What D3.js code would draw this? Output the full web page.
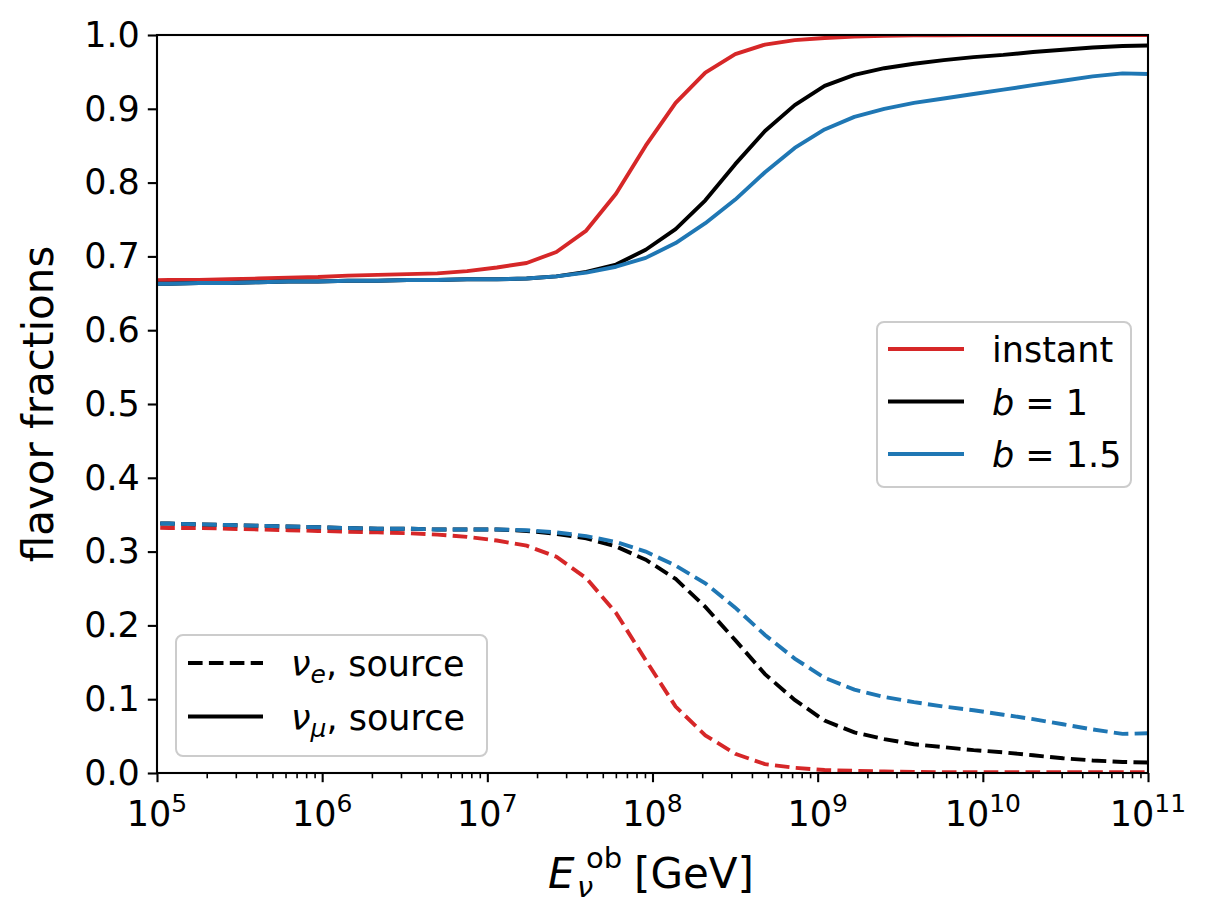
<!DOCTYPE html>
<html lang="en">
<head>
<meta charset="UTF-8">
<title>Flavor fractions</title>
<script src="https://cdnjs.cloudflare.com/ajax/libs/d3/7.8.5/d3.min.js"></script>
<style>
    body { margin: 0; background: #fff; }
    svg { display: block; font-family: "DejaVu Sans", sans-serif; }
</style>
</head>
<body>
<svg id="chart" width="1210" height="922"></svg>
<script>
// log10 of observed energy [GeV] at each computed point
const logE = [4.893, 5.073, 5.254, 5.434, 5.614, 5.795, 5.975, 6.156, 6.336, 6.516,
              6.697, 6.877, 7.058, 7.238, 7.418, 7.599, 7.779, 7.959, 8.140, 8.320,
              8.501, 8.681, 8.861, 9.042, 9.222, 9.403, 9.583, 9.763, 9.944, 10.124,
              10.304, 10.485, 10.665, 10.846, 11.026];

// nu_mu at source (solid)
const muInstant = [0.667, 0.668, 0.668, 0.669, 0.670, 0.671, 0.672, 0.674, 0.675, 0.676,
                   0.677, 0.680, 0.685, 0.691, 0.706, 0.735, 0.785, 0.850, 0.908, 0.949,
                   0.974, 0.987, 0.993, 0.996, 0.998, 0.999, 0.9995, 0.9997, 0.9998, 0.9999,
                   1.0, 1.0, 1.0, 1.0, 1.0];
const muB1 = [0.663, 0.663, 0.664, 0.664, 0.665, 0.666, 0.666, 0.667, 0.667, 0.668,
              0.668, 0.669, 0.669, 0.670, 0.673, 0.679, 0.689, 0.709, 0.737, 0.776,
              0.825, 0.870, 0.905, 0.931, 0.946, 0.955, 0.961, 0.966, 0.970, 0.973,
              0.977, 0.980, 0.983, 0.985, 0.986];
const muB15 = [0.663, 0.663, 0.664, 0.664, 0.665, 0.666, 0.666, 0.667, 0.667, 0.668,
               0.668, 0.669, 0.669, 0.670, 0.673, 0.678, 0.686, 0.698, 0.718, 0.745,
               0.777, 0.814, 0.847, 0.872, 0.889, 0.900, 0.908, 0.914, 0.920, 0.926,
               0.932, 0.938, 0.944, 0.948, 0.947];

// nu_e at source (dashed)
const eInstant = [0.333, 0.332, 0.332, 0.331, 0.330, 0.329, 0.328, 0.327, 0.326, 0.325,
                  0.323, 0.320, 0.315, 0.308, 0.293, 0.264, 0.217, 0.153, 0.090, 0.051,
                  0.026, 0.012, 0.007, 0.004, 0.003, 0.002, 0.0015, 0.001, 0.001, 0.001,
                  0.001, 0.001, 0.001, 0.001, 0.001];
const eB1 = [0.338, 0.338, 0.337, 0.336, 0.335, 0.334, 0.333, 0.332, 0.331, 0.331,
             0.330, 0.330, 0.330, 0.328, 0.324, 0.318, 0.307, 0.289, 0.263, 0.225,
             0.180, 0.134, 0.099, 0.071, 0.055, 0.046, 0.039, 0.035, 0.031, 0.028,
             0.024, 0.020, 0.017, 0.015, 0.014];
const eB15 = [0.338, 0.338, 0.337, 0.336, 0.335, 0.334, 0.333, 0.332, 0.331, 0.331,
              0.330, 0.330, 0.330, 0.329, 0.326, 0.321, 0.313, 0.300, 0.281, 0.257,
              0.224, 0.187, 0.155, 0.129, 0.113, 0.103, 0.096, 0.090, 0.085, 0.079,
              0.073, 0.066, 0.059, 0.053, 0.054];

const yTicks = [0, 0.1, 0.2, 0.3, 0.4, 0.5, 0.6, 0.7, 0.8, 0.9, 1.0];
const xDecades = [5, 6, 7, 8, 9, 10, 11];

const series = [
    { name: "instant", color: "#d62728", mu: muInstant, e: eInstant },
    { name: "b1", color: "#000000", mu: muB1, e: eB1 },
    { name: "b15", color: "#1f77b4", mu: muB15, e: eB15 }
];

const svg = d3.select("#chart");
const plotL = 157, plotR = 1148, plotT = 35, plotB = 773;

const x = d3.scaleLog().domain([1e5, 1e11]).range([plotL, plotR]);
const y = d3.scaleLinear().domain([0, 1]).range([plotB, plotT]);

svg.append("clipPath").attr("id", "plot-clip")
    .append("rect")
    .attr("x", plotL).attr("y", plotT)
    .attr("width", plotR - plotL).attr("height", plotB - plotT);

const line = d3.line()
    .x((d, i) => x(Math.pow(10, logE[i])))
    .y(d => y(d));

const plot = svg.append("g").attr("clip-path", "url(#plot-clip)");
series.forEach(s => {
    plot.append("path")
        .datum(s.mu)
        .attr("d", line)
        .attr("fill", "none")
        .attr("stroke", s.color)
        .attr("stroke-width", 3.9)
        .attr("stroke-linejoin", "round");
    plot.append("path")
        .datum(s.e)
        .attr("d", line)
        .attr("fill", "none")
        .attr("stroke", s.color)
        .attr("stroke-width", 3.9)
        .attr("stroke-dasharray", "14.6,6.3");
});

// x axis: major + minor ticks
const majors = xDecades.map(k => Math.pow(10, k));
const minors = [];
xDecades.slice(0, -1).forEach(k => {
    for (let m = 2; m <= 9; m++) minors.push(m * Math.pow(10, k));
});

const xAxis = svg.append("g").attr("transform", `translate(0,${plotB})`);
xAxis.call(d3.axisBottom(x).tickValues(minors).tickSize(5.3).tickFormat(""));
xAxis.selectAll(".tick line").attr("stroke-width", 1.6);
const xMajor = svg.append("g").attr("transform", `translate(0,${plotB})`);
xMajor.call(d3.axisBottom(x).tickValues(majors).tickSize(9.2).tickFormat(""));
xMajor.selectAll(".tick line").attr("stroke-width", 2.1);
svg.selectAll(".domain").remove();

// x tick labels with superscript exponents
const xLabels = svg.append("g");
xDecades.forEach(k => {
    const t = xLabels.append("text")
        .attr("x", x(Math.pow(10, k)))
        .attr("y", 826)
        .attr("text-anchor", "middle")
        .attr("font-size", 35)
        .attr("fill", "#000");
    t.append("tspan").text("10");
    t.append("tspan").attr("font-size", 25).attr("dy", -14).text(k);
});

// y axis
const yAxis = svg.append("g").attr("transform", `translate(${plotL},0)`);
yAxis.call(d3.axisLeft(y).tickValues(yTicks).tickSize(9.2).tickPadding(8).tickFormat(d3.format(".1f")));
yAxis.select(".domain").remove();
yAxis.selectAll(".tick line").attr("stroke-width", 2.1);
yAxis.selectAll(".tick text").attr("font-size", 35).attr("font-family", "DejaVu Sans").attr("fill", "#000");

// frame
svg.append("rect")
    .attr("x", plotL).attr("y", plotT)
    .attr("width", plotR - plotL).attr("height", plotB - plotT)
    .attr("fill", "none").attr("stroke", "#000").attr("stroke-width", 2.1);

// axis labels
svg.append("text")
    .attr("transform", `translate(53,${(plotT + plotB) / 2}) rotate(-90)`)
    .attr("text-anchor", "middle")
    .attr("font-size", 42)
    .text("flavor fractions");

const xl = svg.append("g").attr("font-size", 42);
xl.append("text").attr("x", 548).attr("y", 888).attr("font-style", "italic").text("E");
xl.append("text").attr("x", 577).attr("y", 897).attr("font-size", 29).attr("font-style", "italic").text("ν");
xl.append("text").attr("x", 586).attr("y", 868).attr("font-size", 29).text("ob");
xl.append("text").attr("x", 634).attr("y", 888).text("[GeV]");

// legend: colours
const leg1 = svg.append("g");
leg1.append("rect")
    .attr("x", 877).attr("y", 322).attr("width", 254).attr("height", 165)
    .attr("rx", 7).attr("fill", "#fff").attr("fill-opacity", 0.8)
    .attr("stroke", "#cccccc").attr("stroke-width", 2);
const colorItems = [
    { color: "#d62728", label: ["instant"] },
    { color: "#000000", label: ["b", " = 1"] },
    { color: "#1f77b4", label: ["b", " = 1.5"] }
];
colorItems.forEach((it, i) => {
    const cy = 349 + i * 52.5;
    leg1.append("line")
        .attr("x1", 888).attr("x2", 964).attr("y1", cy).attr("y2", cy)
        .attr("stroke", it.color).attr("stroke-width", 3.9);
    const t = leg1.append("text").attr("x", 992).attr("y", cy + 13).attr("font-size", 35);
    if (it.label.length === 1) {
        t.text(it.label[0]);
    } else {
        t.append("tspan").attr("font-style", "italic").text(it.label[0]);
        t.append("tspan").attr("xml:space", "preserve").text(it.label[1]);
    }
});

// legend: line styles
const leg2 = svg.append("g");
leg2.append("rect")
    .attr("x", 176).attr("y", 635).attr("width", 311).attr("height", 121)
    .attr("rx", 7).attr("fill", "#fff").attr("fill-opacity", 0.8)
    .attr("stroke", "#cccccc").attr("stroke-width", 2);
const styleItems = [
    { dash: "14.6,6.3", sub: "e" },
    { dash: null, sub: "μ" }
];
styleItems.forEach((it, i) => {
    const cy = 663 + i * 53.5;
    leg2.append("line")
        .attr("x1", 188).attr("x2", 263).attr("y1", cy).attr("y2", cy)
        .attr("stroke", "#000").attr("stroke-width", 3.9)
        .attr("stroke-dasharray", it.dash);
    const t = leg2.append("text").attr("x", 291).attr("y", cy + 13).attr("font-size", 35);
    t.append("tspan").attr("font-style", "italic").text("ν");
    t.append("tspan").attr("font-style", "italic").attr("font-size", 25).attr("dy", 7).text(it.sub);
    t.append("tspan").attr("dy", -7).text(", source");
});
</script>
</body>
</html>
